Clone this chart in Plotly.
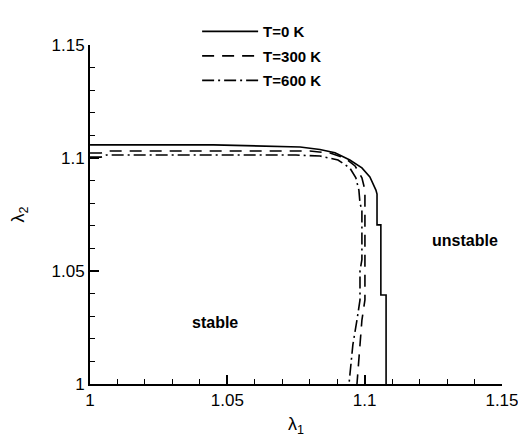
import plotly.graph_objects as go

# ---- data ----
t0_l1 = [1.000, 1.045, 1.0765, 1.0837, 1.0892, 1.0946, 1.0990, 1.1019, 1.1041,
         1.1045, 1.1045, 1.1059, 1.1059, 1.1078, 1.1078]
t0_l2 = [1.1058, 1.1058, 1.1049, 1.1038, 1.1023, 1.0991, 1.0956, 1.0916, 1.0858,
         1.0840, 1.0704, 1.0704, 1.0394, 1.0394, 1.0000]

t300_l1 = [1.000, 1.004, 1.006, 1.080, 1.0874, 1.0928, 1.0965, 1.0990, 1.1001,
           1.1001, 1.0990, 1.0983, 1.0972]
t300_l2 = [1.1022, 1.1022, 1.1031, 1.1031, 1.1022, 1.1000, 1.0965, 1.0912, 1.0858,
           1.0372, 1.0283, 1.0173, 1.0000]

t600_l1 = [1.000, 1.004, 1.006, 1.075, 1.0837, 1.0903, 1.0946, 1.0968, 1.0979,
           1.0983, 1.0990, 1.0990, 1.0983, 1.0983, 1.0972, 1.0957, 1.0943]
t600_l2 = [1.1004, 1.1004, 1.1013, 1.1013, 1.1009, 1.0991, 1.0956, 1.0912, 1.0858,
           1.0800, 1.0770, 1.0550, 1.0500, 1.0372, 1.0283, 1.0173, 1.0000]

series_names = ["T=0 K", "T=300 K", "T=600 K"]
tick_vals = [1.0, 1.05, 1.1, 1.15]
tick_text = ["1", "1.05", "1.1", "1.15"]
region_labels = ["unstable", "stable"]
region_l1 = [1.1365, 1.0455]
region_l2 = [1.0637, 1.0274]

FONT = "Liberation Sans, Arial, Helvetica, sans-serif"

fig = go.Figure()
styles = [("solid", t0_l1, t0_l2), ("12px,8px", t300_l1, t300_l2), ("12px,4px,2px,4px", t600_l1, t600_l2)]
for name, (dash, xs, ys) in zip(series_names, styles):
    fig.add_trace(go.Scatter(x=xs, y=ys, mode="lines", name=name, legendgroup=name,
                             line=dict(color="black", width=1.6, dash=dash)))

for txt, xx, yy in zip(region_labels, region_l1, region_l2):
    fig.add_annotation(x=xx, y=yy, text="<b>%s</b>" % txt, showarrow=False,
                       font=dict(family=FONT, size=16, color="black"))

axis_common = dict(range=[0.99999, 1.15001], tickvals=tick_vals, ticktext=tick_text,
                   ticks="inside", ticklen=9, tickwidth=1.5, tickcolor="black",
                   showline=True, linecolor="black", linewidth=2, showgrid=False, zeroline=False,
                   ticklabeloverflow="allow", automargin=False,
                   tickfont=dict(family=FONT, size=17, color="black"),
                   minor=dict(dtick=0.01, tick0=1, ticks="inside", ticklen=5, tickwidth=1, tickcolor="black"))

fig.update_xaxes(**axis_common, title=dict(text="λ<sub>1</sub>", font=dict(family=FONT, size=18, color="black"), standoff=8))
fig.update_yaxes(**axis_common, title=dict(text="λ<sub>2</sub>", font=dict(family=FONT, size=18, color="black"), standoff=22))

fig.update_layout(
    width=518, height=442,
    margin=dict(l=90, r=16, t=45, b=58, autoexpand=False),
    paper_bgcolor="white", plot_bgcolor="white",
    legend=dict(x=0.26, y=1.088, xanchor="left", yanchor="top",
                bgcolor="rgba(0,0,0,0)", itemwidth=56, tracegroupgap=2,
                font=dict(family=FONT, size=15, color="black", weight="bold")),
)

fig.write_html("out.html", config={"displayModeBar": False},
               post_script="document.body.style.margin='0';")
